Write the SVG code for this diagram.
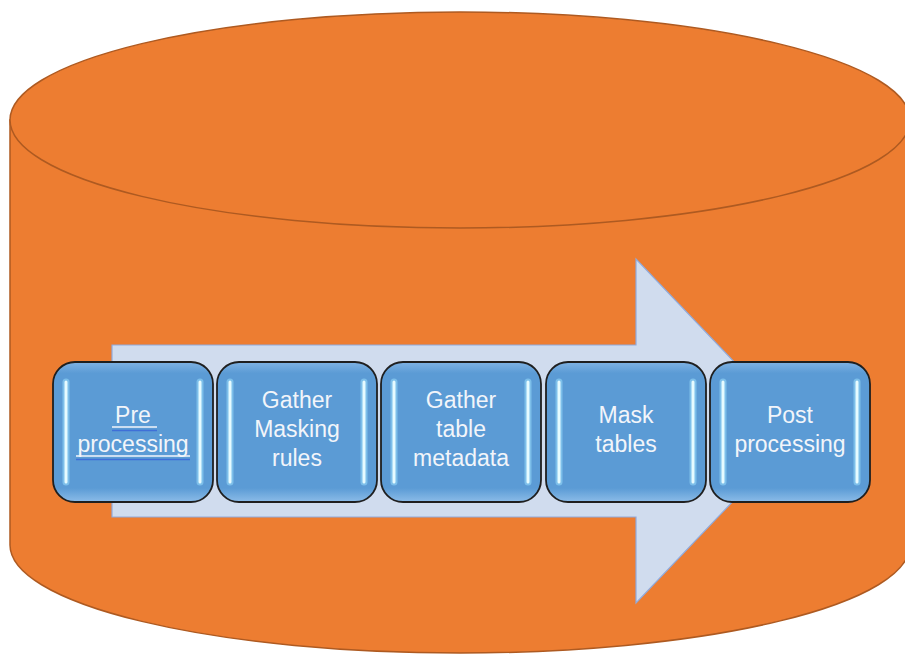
<svg xmlns="http://www.w3.org/2000/svg" width="905" height="654" viewBox="0 0 905 654">
<style>
.cyl{fill:#ED7D31;stroke:#AE5A21;stroke-width:1.5}
.box{fill:url(#bg);stroke:#1f1f1f;stroke-width:1.8}
.hl{stroke:#E6FBFF;stroke-width:3;stroke-linecap:round;fill:none}
.hlg{stroke:#9FE3FF;stroke-width:7;stroke-linecap:round;fill:none;opacity:0.5}
.t{font-family:"Liberation Sans",Arial,sans-serif;font-size:23px;fill:#F2F5FA;text-anchor:middle}
.ul1{stroke:#F2F5FA;stroke-width:1.5}
.ul2{stroke:#3F6FD8;stroke-width:1.5}
</style>
<defs>
<linearGradient id="bg" x1="0" y1="0" x2="0" y2="1">
<stop offset="0" stop-color="#7FB2E3"/>
<stop offset="0.08" stop-color="#5B9BD5"/>
<stop offset="0.9" stop-color="#5B9BD5"/>
<stop offset="1" stop-color="#8CBCE8"/>
</linearGradient>
</defs>
<g id="cylinder">
<path class="cyl" d="M10,120 L10,545 A450,108 0 0 0 910,545 L910,120 Z"/>
<ellipse class="cyl" cx="460" cy="120" rx="450" ry="108"/>
</g>
<g id="arrow">
<path d="M112,345 L636,345 L636,259 L800,431 L636,603 L636,517 L112,517 Z" fill="#D0DCEE" stroke="#8FAADC" stroke-width="1.2"/>
</g>
<g id="connectors"></g>
<g id="n1">
<rect class="box" x="53" y="362" width="160" height="140" rx="22"/>
<line class="hlg" x1="66" y1="382" x2="66" y2="482"/><line class="hl" x1="66" y1="382" x2="66" y2="482"/>
<line class="hlg" x1="200" y1="382" x2="200" y2="482"/><line class="hl" x1="200" y1="382" x2="200" y2="482"/>
<text class="t" x="133" y="423">Pre </text>
<text class="t" x="133" y="452">processing</text>
<line class="ul1" x1="112" y1="427" x2="157" y2="427"/><line class="ul2" x1="112" y1="430.5" x2="157" y2="430.5"/>
<line class="ul1" x1="76" y1="456" x2="190" y2="456"/><line class="ul2" x1="76" y1="459.5" x2="190" y2="459.5"/>
</g>
<g id="n2">
<rect class="box" x="217" y="362" width="160" height="140" rx="22"/>
<line class="hlg" x1="230" y1="382" x2="230" y2="482"/><line class="hl" x1="230" y1="382" x2="230" y2="482"/>
<line class="hlg" x1="364" y1="382" x2="364" y2="482"/><line class="hl" x1="364" y1="382" x2="364" y2="482"/>
<text class="t" x="297" y="408">Gather</text>
<text class="t" x="297" y="437">Masking</text>
<text class="t" x="297" y="466">rules</text>
</g>
<g id="n3">
<rect class="box" x="381" y="362" width="160" height="140" rx="22"/>
<line class="hlg" x1="394" y1="382" x2="394" y2="482"/><line class="hl" x1="394" y1="382" x2="394" y2="482"/>
<line class="hlg" x1="528" y1="382" x2="528" y2="482"/><line class="hl" x1="528" y1="382" x2="528" y2="482"/>
<text class="t" x="461" y="408">Gather</text>
<text class="t" x="461" y="437">table</text>
<text class="t" x="461" y="466">metadata</text>
</g>
<g id="n4">
<rect class="box" x="546" y="362" width="160" height="140" rx="22"/>
<line class="hlg" x1="559" y1="382" x2="559" y2="482"/><line class="hl" x1="559" y1="382" x2="559" y2="482"/>
<line class="hlg" x1="693" y1="382" x2="693" y2="482"/><line class="hl" x1="693" y1="382" x2="693" y2="482"/>
<text class="t" x="626" y="423">Mask</text>
<text class="t" x="626" y="452">tables</text>
</g>
<g id="n5">
<rect class="box" x="710" y="362" width="160" height="140" rx="22"/>
<line class="hlg" x1="723" y1="382" x2="723" y2="482"/><line class="hl" x1="723" y1="382" x2="723" y2="482"/>
<line class="hlg" x1="857" y1="382" x2="857" y2="482"/><line class="hl" x1="857" y1="382" x2="857" y2="482"/>
<text class="t" x="790" y="423">Post</text>
<text class="t" x="790" y="452">processing</text>
</g>
</svg>
